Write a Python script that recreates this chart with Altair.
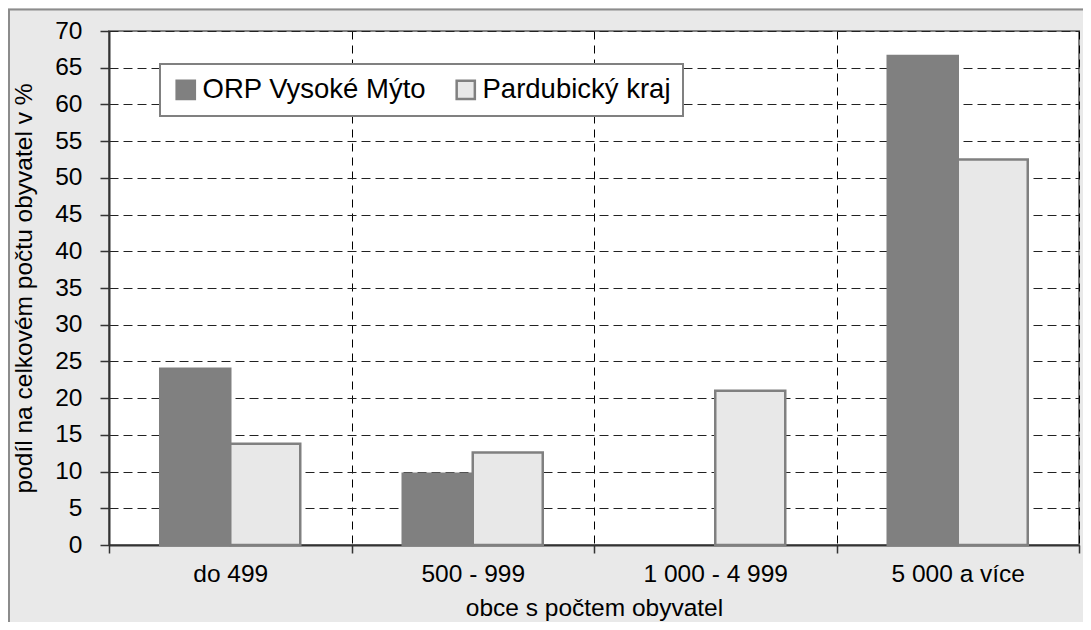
import altair as alt
import pandas as pd

categories = ["do 499", "500 - 999", "1 000 - 4 999", "5 000 a více"]
series = ["ORP Vysoké Mýto", "Pardubický kraj"]
orp_values = [24.0, 9.7, 0.0, 66.6]
kraj_values = [13.8, 12.6, 21.0, 52.5]
y_ticks = list(range(0, 75, 5))

rows = []
for c, v in zip(categories, orp_values):
    rows.append({"kat": c, "serie": series[0], "hodnota": v})
for c, v in zip(categories, kraj_values):
    rows.append({"kat": c, "serie": series[1], "hodnota": v})
df = pd.DataFrame(rows)

FONT = "Liberation Sans"
AX = 24.5

legend = alt.Legend(
    title=None,
    orient="none",
    legendX=51,
    legendY=33,
    direction="horizontal",
    symbolType="square",
    symbolSize=330,
    symbolStrokeWidth=2.5,
    labelFontSize=27.5,
    labelFont=FONT,
    labelColor="black",
    labelOffset=3,
    labelLimit=400,
    columnPadding=24,
    padding=12,
    fillColor="white",
    strokeColor="#808080",
)

bars = alt.Chart(df).transform_filter(
    alt.datum.hodnota > 0
).mark_bar(strokeWidth=2.5).encode(
    x=alt.X(
        "kat:N",
        sort=categories,
        scale=alt.Scale(paddingInner=0, paddingOuter=0),
        axis=alt.Axis(
            title="obce s počtem obyvatel",
            labelAngle=0,
            tickBand="extent",
            grid=True,
            gridDash=[8, 6],
            gridColor="#000000",
            gridWidth=1,
            tickSize=8,
            labelPadding=9,
            titlePadding=11,
        ),
    ),
    xOffset=alt.XOffset(
        "serie:N", sort=series, scale=alt.Scale(paddingInner=0, paddingOuter=0.732)
    ),
    y=alt.Y(
        "hodnota:Q",
        scale=alt.Scale(domain=[0, 70], nice=False),
        axis=alt.Axis(
            title="podíl na celkovém počtu obyvatel v %",
            values=y_ticks,
            grid=True,
            gridDash=[9, 5],
            gridColor="#222222",
            gridWidth=1,
            tickSize=9,
            labelPadding=18,
            titlePadding=18,
        ),
    ),
    fill=alt.Fill(
        "serie:N",
        sort=series,
        scale=alt.Scale(domain=series, range=["#808080", "#e8e8e8"]),
        legend=legend,
    ),
    stroke=alt.Stroke(
        "serie:N",
        sort=series,
        scale=alt.Scale(domain=series, range=["#808080", "#808080"]),
        legend=legend,
    ),
)

frame = alt.Chart(pd.DataFrame({"ramec": [0]})).mark_rect(
    fill=None, stroke="#8c8c8c", strokeWidth=2
).encode(
    x=alt.value(-100),
    x2=alt.value(985),
    y=alt.value(-21.5),
    y2=alt.value(640),
)

chart = alt.layer(bars, frame).properties(
    width=970,
    height=514,
    autosize=alt.AutoSizeParams(type="none"),
    padding={"left": 101, "top": 23, "right": 4, "bottom": 77},
    background="#e9e9e9",
).configure_view(
    fill="white",
    stroke="#808080",
    strokeWidth=2,
).configure_axis(
    labelFont=FONT,
    titleFont=FONT,
    labelFontSize=AX,
    titleFontSize=AX,
    titleFontWeight="normal",
    labelColor="black",
    titleColor="black",
    domainColor="#333333",
    domainWidth=2,
    tickColor="#333333",
    tickWidth=1.5,
).configure_legend(
    strokeWidth=2,
)

chart.save("out.html", embed_options={"renderer": "svg", "actions": False})
